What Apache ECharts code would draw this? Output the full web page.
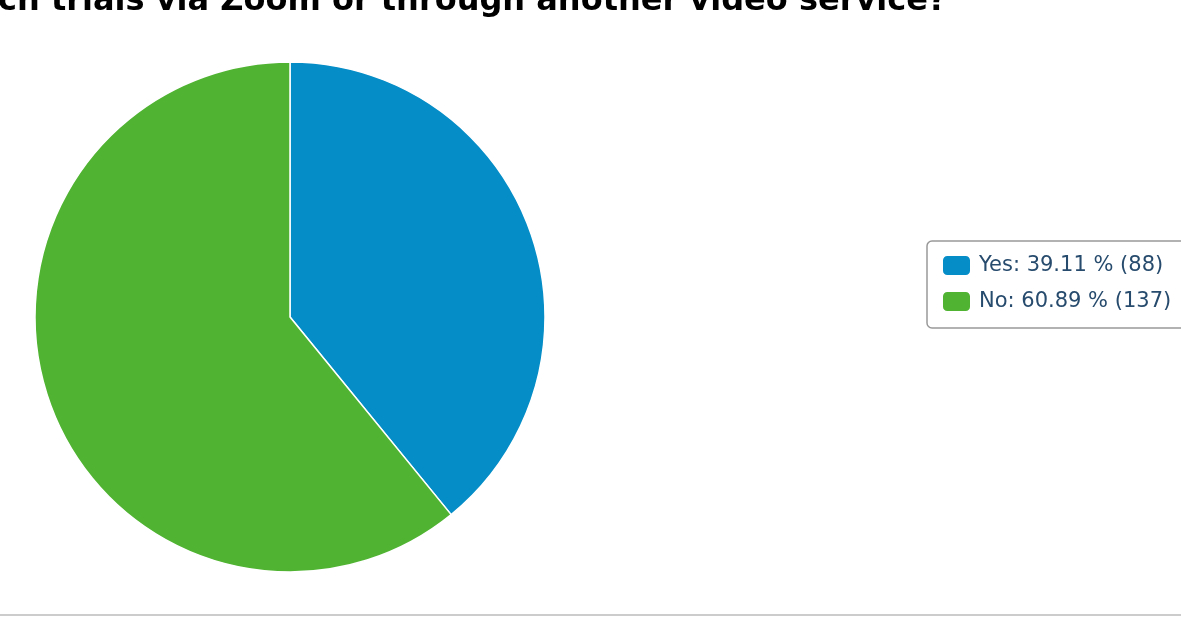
<!DOCTYPE html>
<html><head><meta charset="utf-8">
<style>html,body{margin:0;padding:0;background:#fff}#c{width:1181px;height:631px}</style>
<script src="https://cdn.jsdelivr.net/npm/echarts@6/dist/echarts.min.js"></script>
</head><body><div id="c"></div>
<script>
const titleText = "ch trials via Zoom or through another video service?";
const categories = ["Yes", "No"];
const values = [88, 137];
const colors = ["#058DC7", "#50B432"];

const total = values.reduce((a, b) => a + b, 0);
const chart = echarts.init(document.getElementById('c'));
chart.setOption({
  animation: false,
  color: colors,
  graphic: [
    { type: 'text', left: -2, top: -14, style: { text: titleText, font: 'bold 32px "DejaVu Sans"', fill: '#000' } },
    { type: 'rect', shape: { x: 0, y: 614, width: 1181, height: 2 }, style: { fill: '#cccccc' } }
  ],
  legend: {
    orient: 'vertical',
    left: 927, top: 241,
    padding: [13, 40, 15, 14],
    itemWidth: 29, itemHeight: 21, itemGap: 13,
    borderColor: '#999', borderWidth: 1.5, borderRadius: 5,
    icon: 'roundRect',
    textStyle: { color: '#274b6d', fontSize: 21, fontFamily: 'DejaVu Sans', lineHeight: 22, padding: [0, 0, 0, 3] },
    formatter: name => {
      const i = categories.indexOf(name);
      return name + ': ' + (values[i] / total * 100).toFixed(2) + ' % (' + values[i] + ')';
    },
    data: categories
  },
  series: [{
    type: 'pie',
    center: [290, 317],
    radius: [0, 255],
    startAngle: 90,
    clockwise: true,
    label: { show: false },
    labelLine: { show: false },
    emphasis: { disabled: true },
    itemStyle: { borderColor: '#fff', borderWidth: 1.5 },
    data: categories.map((c, i) => ({ name: c, value: values[i] }))
  }]
});
</script></body></html>
